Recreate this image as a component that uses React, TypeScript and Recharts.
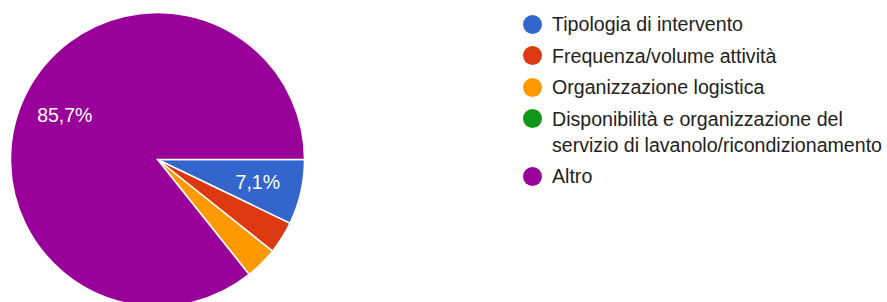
import { PieChart, Pie, Cell, Legend } from 'recharts'

const CATEGORIE = [
  'Tipologia di intervento',
  'Frequenza/volume attività',
  'Organizzazione logistica',
  'Disponibilità e organizzazione del servizio di lavanolo/ricondizionamento',
  'Altro'
]
const RISPOSTE = [2, 1, 1, 0, 24]
const COLORI = ['#3366cc', '#dc3912', '#ff9900', '#109618', '#990099']

const data = CATEGORIE.map((nome, i) => ({ nome, valore: RISPOSTE[i] }))

const RAD = Math.PI / 180
const FONT = 'Arial, "Liberation Sans", sans-serif'

function renderLabel(props: any) {
  const { cx, cy, midAngle, outerRadius, percent } = props
  if (percent < 0.05) return null
  const r = outerRadius * 0.7
  const x = cx + r * Math.cos(-midAngle * RAD)
  const y = cy + r * Math.sin(-midAngle * RAD)
  return (
    <text
      x={x}
      y={y}
      fill="#ffffff"
      textAnchor="middle"
      dominantBaseline="central"
      fontSize={19.5}
      fontFamily={FONT}
    >
      {(percent * 100).toFixed(1).replace('.', ',')}%
    </text>
  )
}

function renderLegend() {
  return (
    <div style={{ fontFamily: FONT, fontSize: 19.6, color: '#222' }}>
      {data.map((d, i) => (
        <div key={d.nome} style={{ display: 'flex', alignItems: 'flex-start', marginBottom: 5.5, lineHeight: '26px' }}>
          <span
            style={{
              display: 'inline-block',
              width: 19,
              height: 19,
              borderRadius: '50%',
              background: COLORI[i],
              marginTop: 3.5,
              marginRight: 10,
              flex: 'none'
            }}
          />
          <span style={{ width: 345 }}>{d.nome}</span>
        </div>
      ))}
    </div>
  )
}

export default function App() {
  return (
    <div style={{ position: 'absolute', left: 0, top: 0, background: '#fff' }}>
      <PieChart width={887} height={302} margin={{ top: 0, right: 0, bottom: 0, left: 0 }}>
        <Pie
          data={data}
          dataKey="valore"
          nameKey="nome"
          cx={157.5}
          cy={159.5}
          outerRadius={147}
          startAngle={0}
          endAngle={-360}
          stroke="#ffffff"
          strokeWidth={1.5}
          label={renderLabel}
          labelLine={false}
          isAnimationActive={false}
        >
          {data.map((_, i) => (
            <Cell key={`cell-${i}`} fill={COLORI[i]} />
          ))}
        </Pie>
        <Legend
          layout="vertical"
          content={renderLegend}
          wrapperStyle={{ position: 'absolute', left: 523, top: 11, width: 364 }}
        />
      </PieChart>
    </div>
  )
}
